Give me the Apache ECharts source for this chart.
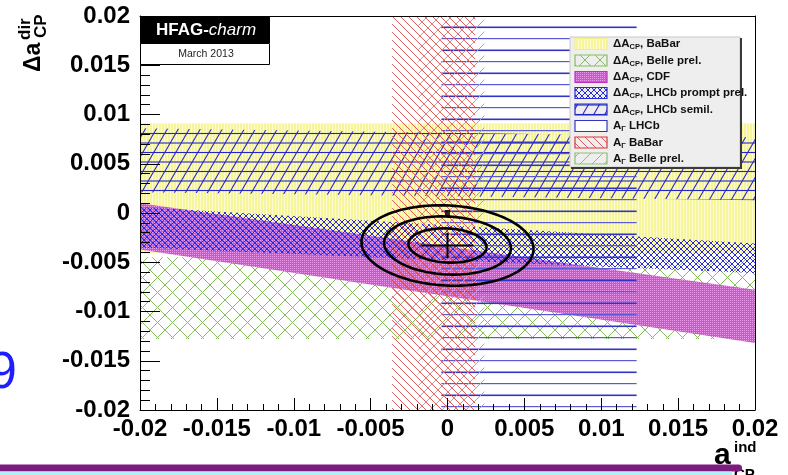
<!DOCTYPE html>
<html>
<head>
<meta charset="utf-8">
<script src="https://cdn.jsdelivr.net/npm/echarts@6/dist/echarts.min.js"></script>
<style>
  html, body { margin: 0; padding: 0; background: #fff; }
  #chart { width: 788px; height: 475px; }
</style>
</head>
<body>
<div id="chart"></div>
<script>
const FONT = '"Liberation Sans", Arial, Helvetica, sans-serif';

// Axis range and tick step (a_ind on x, delta a_dir on y)
const axisMin = -0.02;
const axisMax = 0.02;
const axisStep = 0.005;

// Delta A_CP measurements: band edges in delta a_dir at a_ind = -0.02 (left) and +0.02 (right)
const dacpLabels    = ['BaBar', 'Belle prel.', 'CDF', 'LHCb prompt prel.', 'LHCb semil.'];
const dacpLeftLow   = [-0.0041, -0.0128, -0.0037, -0.0035,  0.0021];
const dacpLeftHigh  = [ 0.0091, -0.0045,  0.0010,  0.0006,  0.0086];
const dacpRightLow  = [-0.0041, -0.0128, -0.0132, -0.0061,  0.0013];
const dacpRightHigh = [ 0.0091, -0.0045, -0.0078, -0.0031,  0.0077];

// A_Gamma measurements: vertical bands in a_ind
const agLabels = ['LHCb', 'BaBar', 'Belle prel.'];
const agLow    = [-0.0004, -0.0036, -0.0019];
const agHigh   = [ 0.0123,  0.0018,  0.0024];

// Combined fit: central value, cross half-lengths, contour semi-axes
const fitCenter = [0.0000, -0.0033];
const fitCross  = [0.0017, 0.0013];
const contourRx = [0.00254, 0.00413, 0.0056];
const contourRy = [0.00173, 0.00294, 0.00406];
const contourTiltDeg = 3;

// No-CPV point
const noCpvPoint = [[0, 0]];

// ---------- hatch / fill tiles ----------
function tile(w, h, draw) {
  const c = document.createElement('canvas');
  c.width = w; c.height = h;
  const g = c.getContext('2d');
  draw(g, w, h);
  return { image: c, repeat: 'repeat' };
}
function lines(g, w, h, segs, color, lw) {
  g.strokeStyle = color; g.lineWidth = lw;
  for (const ox of [-w, 0, w]) for (const oy of [-h, 0, h]) {
    for (const s of segs) {
      g.beginPath(); g.moveTo(s[0] + ox, s[1] + oy); g.lineTo(s[2] + ox, s[3] + oy); g.stroke();
    }
  }
}
const fillYellow = tile(3, 1, (g) => {
  g.fillStyle = '#f7f59c'; g.fillRect(0, 0, 3, 1);
  g.fillStyle = '#fdfcd2'; g.fillRect(2, 0, 1, 1);
});
const fillBelle = tile(15, 15, (g, w, h) => lines(g, w, h, [[0, 0, w, h], [0, h, w, 0]], '#86bd5c', 1));
const fillCdf = tile(2, 2, (g) => {
  g.fillStyle = '#dc4cdc'; g.fillRect(0, 0, 2, 2);
  g.fillStyle = '#ee98ee'; g.fillRect(0, 0, 1, 1);
});
const fillPrompt = tile(6, 6, (g, w, h) => lines(g, w, h, [[0, 0, w, h], [0, h, w, 0]], '#2a2ad6', 1));
const fillSemil = tile(11, 19, (g, w, h) => lines(g, w, h, [[0, h, w, 0], [0, 0.5, w, 0.5], [0, 10, w, 10]], '#2424c8', 1.1));
const fillAgLhcb = tile(4, 23, (g) => {
  g.fillStyle = '#3434c4'; g.fillRect(0, 3.5, 4, 1.6);
  g.fillStyle = '#5a5ad4'; g.fillRect(0, 15, 4, 1.2);
});
const fillAgBabar = tile(8, 8, (g, w, h) => lines(g, w, h, [[0, 0, w, h]], '#de4a4a', 0.9));
const fillAgBelle = tile(12, 12, (g, w, h) => lines(g, w, h, [[0, h, w, 0]], '#8cc070', 1));

const dacpFills = [fillYellow, fillBelle, fillCdf, fillPrompt, fillSemil];
const agFills = [fillAgLhcb, fillAgBabar, fillAgBelle];

// ---------- series ----------
const series = [];

dacpLabels.forEach((lab, i) => {
  series.push({
    type: 'custom',
    name: 'dACP ' + lab,
    silent: true,
    z: 2 + i * 0.1,
    data: [[axisMin, dacpLeftLow[i], dacpLeftHigh[i], axisMax, dacpRightLow[i], dacpRightHigh[i]]],
    encode: { x: [0, 3], y: [1, 2, 4, 5] },
    renderItem: (params, api) => {
      const x0 = api.value(0), x1 = api.value(3);
      const pts = [
        api.coord([x0, api.value(1)]),
        api.coord([x1, api.value(4)]),
        api.coord([x1, api.value(5)]),
        api.coord([x0, api.value(2)])
      ];
      return { type: 'polygon', shape: { points: pts }, style: { fill: dacpFills[i], stroke: null } };
    }
  });
});

agLabels.forEach((lab, i) => {
  series.push({
    type: 'custom',
    name: 'AG ' + lab,
    silent: true,
    z: 3 + i * 0.1,
    data: [[agLow[i], agHigh[i], axisMin, axisMax]],
    encode: { x: [0, 1], y: [2, 3] },
    renderItem: (params, api) => {
      const lo = api.value(0), hi = api.value(1), y0 = api.value(2), y1 = api.value(3);
      const pts = [api.coord([lo, y0]), api.coord([hi, y0]), api.coord([hi, y1]), api.coord([lo, y1])];
      return { type: 'polygon', shape: { points: pts }, style: { fill: agFills[i], stroke: null } };
    }
  });
});

// contours of the combined fit
series.push({
  type: 'custom',
  name: 'contours',
  silent: true,
  z: 5,
  data: contourRx.map((rx, k) => [fitCenter[0], fitCenter[1], rx, contourRy[k]]),
  encode: { x: 0, y: 1 },
  renderItem: (params, api) => {
    const c = api.coord([api.value(0), api.value(1)]);
    const sz = api.size([api.value(2), api.value(3)]);
    const rx = Math.abs(sz[0]), ry = Math.abs(sz[1]);
    const t = contourTiltDeg * Math.PI / 180;
    const pts = [];
    for (let k = 0; k < 120; k++) {
      const a = k / 120 * 2 * Math.PI;
      const ex = rx * Math.cos(a), ey = ry * Math.sin(a);
      pts.push([c[0] + ex * Math.cos(t) - ey * Math.sin(t), c[1] + ex * Math.sin(t) + ey * Math.cos(t)]);
    }
    return { type: 'polygon', shape: { points: pts }, style: { fill: null, stroke: '#000', lineWidth: 2.6 } };
  }
});

// central value cross
series.push({
  type: 'custom',
  name: 'central',
  silent: true,
  z: 6,
  data: [[fitCenter[0], fitCenter[1], fitCross[0], fitCross[1]]],
  encode: { x: 0, y: 1 },
  renderItem: (params, api) => {
    const xc = api.value(0), yc = api.value(1), ex = api.value(2), ey = api.value(3);
    const l = api.coord([xc - ex, yc]), r = api.coord([xc + ex, yc]);
    const b = api.coord([xc, yc - ey]), t = api.coord([xc, yc + ey]);
    return {
      type: 'group',
      children: [
        { type: 'line', shape: { x1: l[0], y1: l[1], x2: r[0], y2: r[1] }, style: { stroke: '#000', lineWidth: 2 } },
        { type: 'line', shape: { x1: b[0], y1: b[1], x2: t[0], y2: t[1] }, style: { stroke: '#000', lineWidth: 2 } }
      ]
    };
  }
});

series.push({
  type: 'scatter',
  name: 'no CPV',
  silent: true,
  z: 6,
  data: noCpvPoint,
  symbol: 'rect',
  symbolSize: [5, 6],
  itemStyle: { color: '#000' }
});

// ---------- axes ----------
const tickLabel = { fontSize: 24, fontWeight: 'bold', color: '#000', fontFamily: FONT };
const blackLine = { color: '#000', width: 1 };

const xAxes = [
  {
    type: 'value', min: axisMin, max: axisMax, interval: axisStep, position: 'bottom', z: 10,
    axisLine: { show: true, onZero: false, lineStyle: blackLine },
    axisTick: { show: true, inside: true, length: 12, lineStyle: blackLine },
    minorTick: { show: true, splitNumber: 5, length: 6, lineStyle: blackLine },
    splitLine: { show: false },
    axisLabel: Object.assign({ margin: 7 }, tickLabel)
  },
  {
    type: 'value', min: axisMin, max: axisMax, position: 'top', z: 10,
    axisLine: { show: true, onZero: false, lineStyle: blackLine },
    axisTick: { show: false }, axisLabel: { show: false }, splitLine: { show: false }
  }
];
const yAxes = [
  {
    type: 'value', min: axisMin, max: axisMax, interval: axisStep, position: 'left', z: 10,
    axisLine: { show: true, onZero: false, lineStyle: blackLine },
    axisTick: { show: true, inside: true, length: 20, lineStyle: blackLine },
    minorTick: { show: true, splitNumber: 5, length: 10, lineStyle: blackLine },
    splitLine: { show: false },
    axisLabel: Object.assign({ margin: 10 }, tickLabel)
  },
  {
    type: 'value', min: axisMin, max: axisMax, position: 'right', z: 10,
    axisLine: { show: true, onZero: false, lineStyle: blackLine },
    axisTick: { show: false }, axisLabel: { show: false }, splitLine: { show: false }
  }
];

// ---------- legend (drawn as graphic) ----------
const legendRows = [
  { text: '{m|ΔA}{s|CP}{m|, BaBar}', fill: fillYellow, stroke: '#f0ee90' },
  { text: '{m|ΔA}{s|CP}{m|, Belle prel.}', fill: fillBelle, stroke: '#86bd5c' },
  { text: '{m|ΔA}{s|CP}{m|, CDF}', fill: fillCdf, stroke: '#c030c0' },
  { text: '{m|ΔA}{s|CP}{m|, LHCb prompt prel.}', fill: fillPrompt, stroke: '#2a2ad6' },
  { text: '{m|ΔA}{s|CP}{m|, LHCb semil.}', fill: fillSemil, stroke: '#2424c8' },
  { text: '{m|A}{s|Γ}{m| LHCb}', fill: '#ffffff', stroke: '#3434c4' },
  { text: '{m|A}{s|Γ}{m| BaBar}', fill: fillAgBabar, stroke: '#d83838' },
  { text: '{m|A}{s|Γ}{m| Belle prel.}', fill: fillAgBelle, stroke: '#8cc070' }
];
const legendRowY = [44, 60.5, 77, 93, 109.5, 126, 142.5, 158.5];
const LZ = 120;
const legendChildren = [
  { type: 'rect', z: LZ, shape: { x: 570, y: 37, width: 170, height: 130 }, style: { fill: '#eeeeee', stroke: '#c8c8c8', lineWidth: 1 } },
  { type: 'line', z: LZ + 1, shape: { x1: 741, y1: 38, x2: 741, y2: 168 }, style: { stroke: '#3a3a3a', lineWidth: 2 } },
  { type: 'line', z: LZ + 1, shape: { x1: 571, y1: 168, x2: 742, y2: 168 }, style: { stroke: '#3a3a3a', lineWidth: 2 } }
];
legendRows.forEach((r, i) => {
  const cy = legendRowY[i];
  legendChildren.push({
    type: 'rect', z: LZ + 1, shape: { x: 575, y: cy - 5.5, width: 32, height: 11 },
    style: { fill: r.fill, stroke: r.stroke, lineWidth: 1.2 }
  });
  legendChildren.push({
    type: 'text', z: LZ + 1, x: 613, y: cy,
    style: {
      text: r.text, verticalAlign: 'middle', align: 'left',
      rich: {
        m: { fontSize: 11.5, fontWeight: 'bold', fontFamily: FONT, fill: '#111', lineHeight: 14, verticalAlign: 'middle' },
        s: { fontSize: 7.5, fontWeight: 'bold', fontFamily: FONT, fill: '#111', lineHeight: 8, verticalAlign: 'bottom' }
      }
    }
  });
});

const graphics = [
  // HFAG badge
  { type: 'rect', z: 100, shape: { x: 140, y: 16, width: 130, height: 27 }, style: { fill: '#000' } },
  {
    type: 'text', z: 101, x: 206, y: 30,
    style: {
      text: '{b|HFAG-}{i|charm}', align: 'center', verticalAlign: 'middle',
      rich: {
        b: { fontSize: 17, fontWeight: 'bold', fontFamily: FONT, fill: '#fff' },
        i: { fontSize: 17, fontStyle: 'italic', fontFamily: FONT, fill: '#fff' }
      }
    }
  },
  { type: 'rect', z: 100, shape: { x: 140.5, y: 43.5, width: 129, height: 21 }, style: { fill: '#fff', stroke: '#000', lineWidth: 1 } },
  {
    type: 'text', z: 101, x: 206, y: 54,
    style: { text: 'March 2013', align: 'center', verticalAlign: 'middle', fontSize: 10.5, fontFamily: FONT, fill: '#222' }
  },
  // legend
  { type: 'group', children: legendChildren },
  // y-axis title (rotated)
  {
    type: 'group', x: 45, y: 72, rotation: Math.PI / 2,
    children: [
      { type: 'text', z: 100, x: 0, y: 0, style: { text: 'Δa', align: 'left', verticalAlign: 'bottom', fontSize: 23, fontWeight: 'bold', fontFamily: FONT, fill: '#000' } },
      { type: 'text', z: 100, x: 32, y: -11, style: { text: 'dir', align: 'left', verticalAlign: 'bottom', fontSize: 17, fontWeight: 'bold', fontFamily: FONT, fill: '#000' } },
      { type: 'text', z: 100, x: 34, y: 5, style: { text: 'CP', align: 'left', verticalAlign: 'bottom', fontSize: 17, fontWeight: 'bold', fontFamily: FONT, fill: '#000' } }
    ]
  },
  // x-axis title
  { type: 'text', z: 100, x: 714, y: 456, style: { text: 'a', align: 'left', verticalAlign: 'middle', fontSize: 30, fontWeight: 'bold', fontFamily: FONT, fill: '#000' } },
  { type: 'text', z: 100, x: 734, y: 448, style: { text: 'ind', align: 'left', verticalAlign: 'middle', fontSize: 15, fontWeight: 'bold', fontFamily: FONT, fill: '#000' } },
  { type: 'text', z: 100, x: 734, y: 475, style: { text: 'CP', align: 'left', verticalAlign: 'middle', fontSize: 15, fontWeight: 'bold', fontFamily: FONT, fill: '#000' } },
  // slide footer bar
  { type: 'rect', z: 110, shape: { x: -10, y: 464.5, width: 752, height: 7, r: [0, 4, 4, 0] }, style: { fill: '#7b1c7e' } },
  { type: 'rect', z: 110, shape: { x: -10, y: 471.5, width: 742, height: 4 }, style: { fill: '#aef3f3' } },
  // slide page number
  { type: 'text', z: 100, x: -12, y: 374, style: { text: '9', align: 'left', verticalAlign: 'middle', fontSize: 52, fontFamily: FONT, fill: '#1e1eff' } }
];

const chart = echarts.init(document.getElementById('chart'), null, { renderer: 'canvas' });
chart.setOption({
  animation: false,
  backgroundColor: '#fff',
  grid: { left: 140, top: 16, width: 615, height: 394, containLabel: false },
  xAxis: xAxes,
  yAxis: yAxes,
  series: series,
  graphic: graphics
});
</script>
</body>
</html>
